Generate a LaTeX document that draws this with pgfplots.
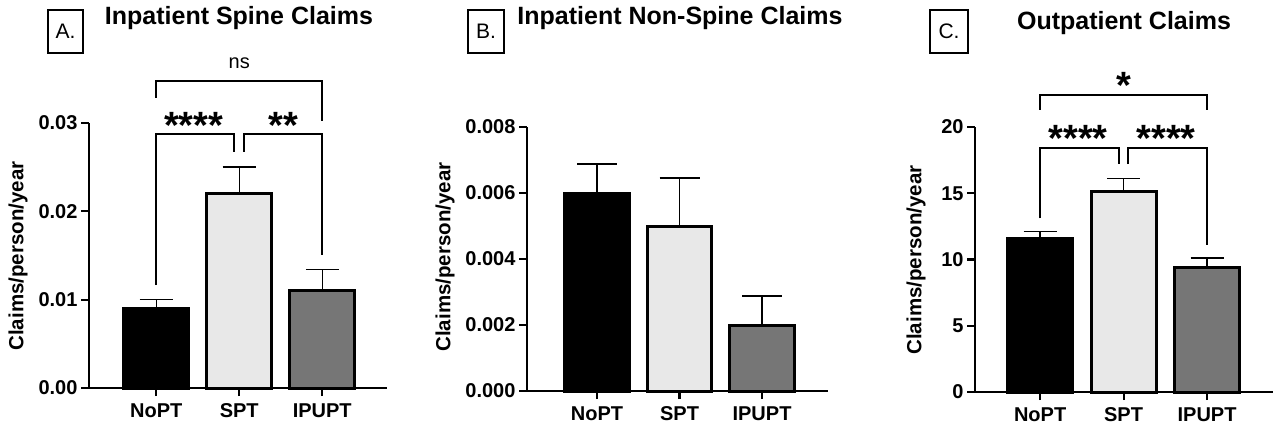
\documentclass[border=0pt]{standalone}
\usepackage{fontspec}
\setmainfont{Liberation Sans}
\usepackage{pgfplots}
\pgfplotsset{compat=1.18}
\definecolor{lgray}{HTML}{E8E8E8}
\definecolor{dgray}{HTML}{767676}
\pgfplotsset{
  panel/.style={
    scale only axis,
    axis lines=left,
    axis line style={-, line width=2.2bp, black},
    tick align=outside,
    major tick length=8bp,
    tick style={line width=2.2bp, black},
    xtick={0,1,2},
    xticklabels={NoPT,SPT,IPUPT},
    scaled y ticks=false,
    ymin=0,
    clip=false,
    ticklabel style={font=\bfseries\fontsize{20bp}{24bp}\selectfont},
    xticklabel style={yshift=-4bp},
    xmin=-0.81, xmax=2.78,
    width=298bp,
  },
  pbar/.style={ybar, bar shift=0pt, bar width=0.78, draw=black, line width=3bp,
    error bars/y dir=plus, error bars/y explicit,
    error bars/error bar style={line width=1.4bp, black},
    error bars/error mark options={line width=1.4bp, black, rotate=90, mark size=#1}},
}
\tikzset{br/.style={line width=2bp, black},
  stars/.style={anchor=north, inner sep=0pt, font=\bfseries\fontsize{38bp}{40bp}\selectfont}}
\begin{document}
\begin{tikzpicture}[x=1bp,y=1bp]
\useasboundingbox (0,0) rectangle (1280,430);
% ---------- Panel A ----------
\begin{axis}[panel, at={(89bp,42bp)}, anchor=south west, height=265bp,
  ymax=0.03, ytick={0,0.01,0.02,0.03}, yticklabels={0.00,0.01,0.02,0.03}]
\addplot[pbar=16.5bp, fill=black] coordinates {(0,0.009) +- (0,0.001)};
\addplot[pbar=16.5bp, fill=lgray] coordinates {(1,0.022) +- (0,0.003)};
\addplot[pbar=16.5bp, fill=dgray] coordinates {(2,0.011) +- (0,0.0024)};
\draw[br] (axis cs:0,0.01166) |- (axis cs:0.94,0.02875) -- (axis cs:0.94,0.02672);
\draw[br] (axis cs:1.06,0.02672) |- (axis cs:2,0.02875) -- (axis cs:2,0.01506);
\draw[br] (axis cs:0,0.03283) |- (axis cs:2,0.03475) -- (axis cs:2,0.03023);
\node[stars] at (axis cs:0.45,0.03125) {****};
\node[stars] at (axis cs:1.53,0.03125) {**};
\node[font=\fontsize{20bp}{24bp}\selectfont] at (axis cs:1,0.0368) {ns};
\end{axis}
% ---------- Panel B ----------
\begin{axis}[panel, at={(527bp,39bp)}, anchor=south west, height=264bp, width=301bp,
  xmin=-0.85, xmax=2.8,
  ymax=0.008, ytick={0,0.002,0.004,0.006,0.008}, yticklabels={0.000,0.002,0.004,0.006,0.008}]
\addplot[pbar=20bp, fill=black] coordinates {(0,0.006) +- (0,0.00088)};
\addplot[pbar=20bp, fill=lgray] coordinates {(1,0.005) +- (0,0.00145)};
\addplot[pbar=20bp, fill=dgray] coordinates {(2,0.002) +- (0,0.00088)};
\end{axis}
% ---------- Panel C ----------
\begin{axis}[panel, at={(975bp,38bp)}, anchor=south west, height=265bp,
  xmin=-0.78, xmax=2.79,
  ymax=20, ytick={0,5,10,15,20}, yticklabels={0,5,10,15,20}]
\addplot[pbar=16.5bp, fill=black] coordinates {(0,11.6) +- (0,0.5)};
\addplot[pbar=16.5bp, fill=lgray] coordinates {(1,15.1) +- (0,1.0)};
\addplot[pbar=16.5bp, fill=dgray] coordinates {(2,9.4) +- (0,0.7)};
\draw[br] (axis cs:0,13.1) |- (axis cs:0.95,18.4) -- (axis cs:0.95,17.2);
\draw[br] (axis cs:1.05,17.2) |- (axis cs:2,18.4) -- (axis cs:2,11.1);
\draw[br] (axis cs:0,21.3) |- (axis cs:2,22.4) -- (axis cs:2,21.3);
\node[stars] at (axis cs:0.455,20.15) {****};
\node[stars] at (axis cs:1.51,20.15) {****};
\node[stars] at (axis cs:1,24.15) {*};
\end{axis}
% ---------- titles, boxes, y labels ----------
\begin{scope}[font=\bfseries\fontsize{25bp}{30bp}\selectfont]
\node[anchor=base] at (239,405) {Inpatient Spine Claims};
\node[anchor=base] at (680,405) {Inpatient Non-Spine Claims};
\node[anchor=base] at (1124,400) {Outpatient Claims};
\end{scope}
\begin{scope}[font=\fontsize{21bp}{24bp}\selectfont]
\node[draw, line width=1.8bp, minimum width=35bp, minimum height=43bp, inner sep=0pt] at (65.5,398.5) {A.};
\node[draw, line width=1.8bp, minimum width=36bp, minimum height=43bp, inner sep=0pt] at (486,398.5) {B.};
\node[draw, line width=1.8bp, minimum width=38bp, minimum height=43bp, inner sep=0pt] at (949,398.5) {C.};
\end{scope}
\begin{scope}[font=\bfseries\fontsize{20.5bp}{24bp}\selectfont]
\node[rotate=90] at (18,174) {Claims/person/year};
\node[rotate=90] at (445,173) {Claims/person/year};
\node[rotate=90] at (916,170) {Claims/person/year};
\end{scope}
\end{tikzpicture}
\end{document}
